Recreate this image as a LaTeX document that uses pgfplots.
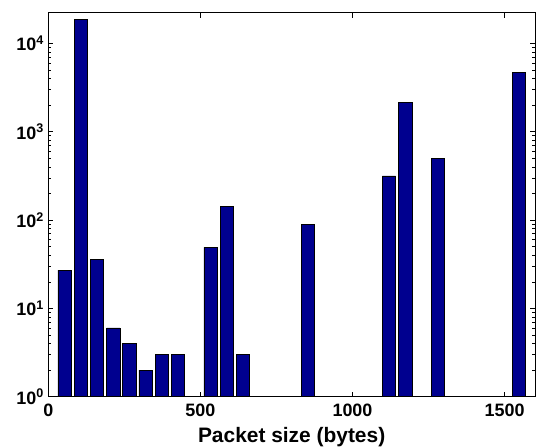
\documentclass[border=0pt]{standalone}
\usepackage{pgfplots}
\pgfplotsset{compat=1.18}
\usepackage{fontspec}
\setmainfont{Liberation Sans}

\definecolor{barnavy}{RGB}{0,0,143}

\begin{document}
\begin{tikzpicture}
\useasboundingbox (-48.3bp,-51.3bp) rectangle (488.7bp,396.7bp);
\begin{axis}[
  at={(0,0)}, anchor=south west,
  scale only axis, width=486.7bp, height=384bp,
  ymode=log, ymin=1, ymax=22200,
  xmin=0, xmax=1600,
  ybar, bar width=43.7,
  xtick={0,500,1000,1500},
  xticklabels={0,500,1000,1500},
  ytick={1,10,100,1000,10000},
  yticklabels={10\textsuperscript{0},10\textsuperscript{1},10\textsuperscript{2},10\textsuperscript{3},10\textsuperscript{4}},
  tick align=inside,
  major tick length=5bp, minor tick length=3bp,
  tick style={black, line width=0.5bp},
  tick label style={font=\bfseries\fontsize{18}{20}\selectfont},
  yticklabel style={xshift=-1bp},
  xticklabel style={yshift=-4bp},
  /pgf/number format/assume math mode=true,
  xlabel={Packet size (bytes)},
  xlabel style={font=\bfseries\fontsize{21}{23}\selectfont, yshift=-4bp},
  axis line style={line width=0.9bp},
]
\addplot[fill=barnavy, draw=black, line width=0.6bp] coordinates {
  (53.3,27) (106.7,18700) (160,36) (213.3,6) (266.7,4) (320,2)
  (373.3,3) (426.7,3) (533.3,49) (586.7,143) (640,3)
  (853.3,90) (1120,316) (1173.3,2160) (1280,500) (1546.7,4720)
};
\end{axis}
\end{tikzpicture}
\end{document}
